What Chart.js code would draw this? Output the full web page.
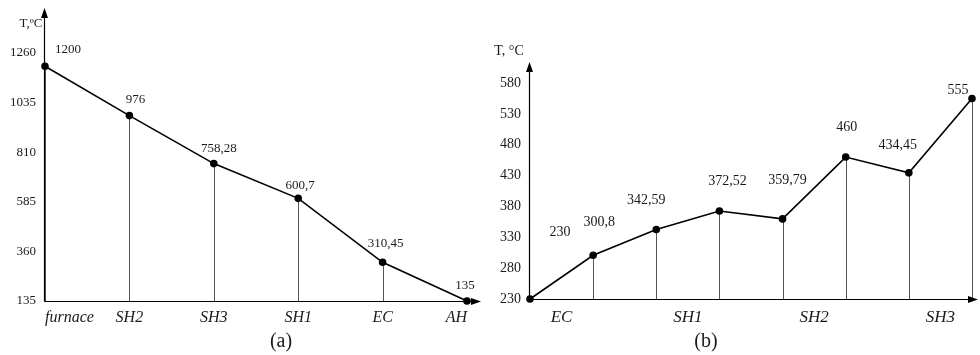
<!DOCTYPE html>
<html>
<head>
<meta charset="utf-8">
<script src="https://cdn.jsdelivr.net/npm/chart.js@4.4.0/dist/chart.umd.min.js"></script>
<style>
    body { margin: 0; background: #fff; }
    #wrap { position: relative; width: 980px; height: 355px; }
    .box { position: absolute; top: 0; width: 490px; height: 355px; }
</style>
</head>
<body>
<div id="wrap">
    <div class="box" style="left:0"><canvas id="chartA"></canvas></div>
    <div class="box" style="left:490px"><canvas id="chartB"></canvas></div>
</div>
<script>
// (a) gas side
const stagesA = ['furnace', 'SH2', 'SH3', 'SH1', 'EC', 'AH'];
const tempA = [1200, 976, 758.28, 600.7, 310.45, 135];
const textA = ['1200', '976', '758,28', '600,7', '310,45', '135'];
const yTicksA = [135, 360, 585, 810, 1035, 1260];

// (b) steam side
const tempB = [230, 300.8, 342.59, 372.52, 359.79, 460, 434.45, 555];
const textB = ['230', '300,8', '342,59', '372,52', '359,79', '460', '434,45', '555'];
const stagesB = ['EC', 'SH1', 'SH2', 'SH3'];
const stageTicksB = [0.5, 2.5, 4.5, 6.5];
const yTicksB = [230, 280, 330, 380, 430, 480, 530, 580];

const SERIF = "'Liberation Serif', 'Times New Roman', serif";
const INK = '#1a1a1a';

// draws axes with arrows, drop lines, value labels, caption and axis title
const sketchPlugin = {
    id: 'sketch',
    beforeDatasetsDraw(chart, args, opts) {
        const { ctx, chartArea } = chart;
        const meta = chart.getDatasetMeta(0);
        ctx.save();
        ctx.strokeStyle = '#555';
        ctx.lineWidth = 1;
        meta.data.forEach(pt => {
            ctx.beginPath();
            ctx.moveTo(Math.round(pt.x) + 0.5, pt.y);
            ctx.lineTo(Math.round(pt.x) + 0.5, chartArea.bottom);
            ctx.stroke();
        });

        // axes
        const x0 = Math.round(chartArea.left) - 0.5;
        const y0 = Math.round(chartArea.bottom) + 0.5;
        ctx.strokeStyle = '#000';
        ctx.fillStyle = '#000';
        ctx.lineWidth = 1.2;
        ctx.beginPath();
        ctx.moveTo(x0, y0);
        ctx.lineTo(x0, opts.arrowTop + 4);
        ctx.moveTo(x0, y0);
        ctx.lineTo(opts.arrowRight - 4, y0);
        ctx.stroke();
        ctx.beginPath();
        ctx.moveTo(x0, opts.arrowTop);
        ctx.lineTo(x0 - 3.5, opts.arrowTop + 10);
        ctx.lineTo(x0 + 3.5, opts.arrowTop + 10);
        ctx.closePath();
        ctx.fill();
        ctx.beginPath();
        ctx.moveTo(opts.arrowRight, y0);
        ctx.lineTo(opts.arrowRight - 10, y0 - 3.5);
        ctx.lineTo(opts.arrowRight - 10, y0 + 3.5);
        ctx.closePath();
        ctx.fill();
        ctx.restore();
    },
    afterDatasetsDraw(chart, args, opts) {
        const { ctx } = chart;
        const meta = chart.getDatasetMeta(0);
        ctx.save();
        ctx.fillStyle = INK;
        ctx.textAlign = 'center';
        ctx.textBaseline = 'middle';
        ctx.font = `${opts.valueSize}px ${SERIF}`;
        meta.data.forEach((pt, i) => {
            const off = opts.offsets[i] || [0, -15];
            ctx.fillText(opts.texts[i], pt.x + off[0], pt.y + off[1]);
        });

        ctx.fillText(opts.axisTitle[0], opts.axisTitle[1], opts.axisTitle[2]);

        ctx.font = `20px ${SERIF}`;
        ctx.fillText(opts.caption[0], opts.caption[1], opts.caption[2]);
        ctx.restore();
    }
};

function yScale(ticks, width, size) {
    return {
        min: ticks[0],
        max: ticks[ticks.length - 1],
        grid: { display: false, drawTicks: false },
        border: { display: false },
        afterBuildTicks: s => { s.ticks = ticks.map(v => ({ value: v })); },
        afterFit: s => { s.width = width; },
        ticks: {
            color: INK,
            padding: 9,
            callback: v => String(v),
            font: { family: SERIF, size: size }
        }
    };
}

const lineStyle = {
    borderColor: '#000',
    borderWidth: 1.6,
    pointRadius: 3,
    pointBackgroundColor: '#000',
    pointBorderColor: '#000',
    tension: 0,
    clip: false
};

new Chart(document.getElementById('chartA'), {
    type: 'line',
    data: {
        labels: stagesA,
        datasets: [{ data: tempA, ...lineStyle }]
    },
    options: {
        responsive: true,
        maintainAspectRatio: false,
        animation: false,
        layout: { padding: { top: 53, right: 23, left: 0, bottom: 0 } },
        plugins: {
            legend: { display: false },
            tooltip: { enabled: false },
            sketch: {
                arrowTop: 8,
                arrowRight: 481,
                texts: textA,
                valueSize: 13,
                offsets: [[23, -17], [6, -16], [5, -15], [2, -13], [3, -19], [-2, -15]],
                axisTitle: ['T,ºC', 31, 24],
                caption: ['(a)', 281, 342]
            }
        },
        scales: {
            x: {
                offset: false,
                grid: { display: false, drawTicks: false },
                border: { display: false },
                afterFit: s => { s.height = 54; },
                ticks: {
                    color: INK,
                    padding: 7,
                    align: 'inner',
                    maxRotation: 0,
                    font: { family: SERIF, size: 16, style: 'italic' }
                }
            },
            y: yScale(yTicksA, 45, 13)
        }
    },
    plugins: [sketchPlugin]
});

new Chart(document.getElementById('chartB'), {
    type: 'line',
    data: {
        datasets: [{ data: tempB.map((v, i) => ({ x: i, y: v })), ...lineStyle }]
    },
    options: {
        responsive: true,
        maintainAspectRatio: false,
        animation: false,
        layout: { padding: { top: 83, right: 8, left: 0, bottom: 0 } },
        plugins: {
            legend: { display: false },
            tooltip: { enabled: false },
            sketch: {
                arrowTop: 62,
                arrowRight: 488,
                texts: textB,
                valueSize: 14,
                offsets: [[30, -67], [6, -33], [-10, -29], [8, -30], [5, -39], [1, -30], [-11, -27], [-14, -8]],
                axisTitle: ['T, °C', 19, 51],
                caption: ['(b)', 216, 342]
            }
        },
        scales: {
            x: {
                type: 'linear',
                min: 0,
                max: tempB.length - 1,
                grid: { display: false, drawTicks: false },
                border: { display: false },
                afterBuildTicks: s => { s.ticks = stageTicksB.map(v => ({ value: v })); },
                afterFit: s => { s.height = 56; },
                ticks: {
                    color: INK,
                    padding: 8,
                    maxRotation: 0,
                    autoSkip: false,
                    callback: (v, i) => stagesB[i],
                    font: { family: SERIF, size: 17, style: 'italic' }
                }
            },
            y: yScale(yTicksB, 40, 14)
        }
    },
    plugins: [sketchPlugin]
});
</script>
</body>
</html>
